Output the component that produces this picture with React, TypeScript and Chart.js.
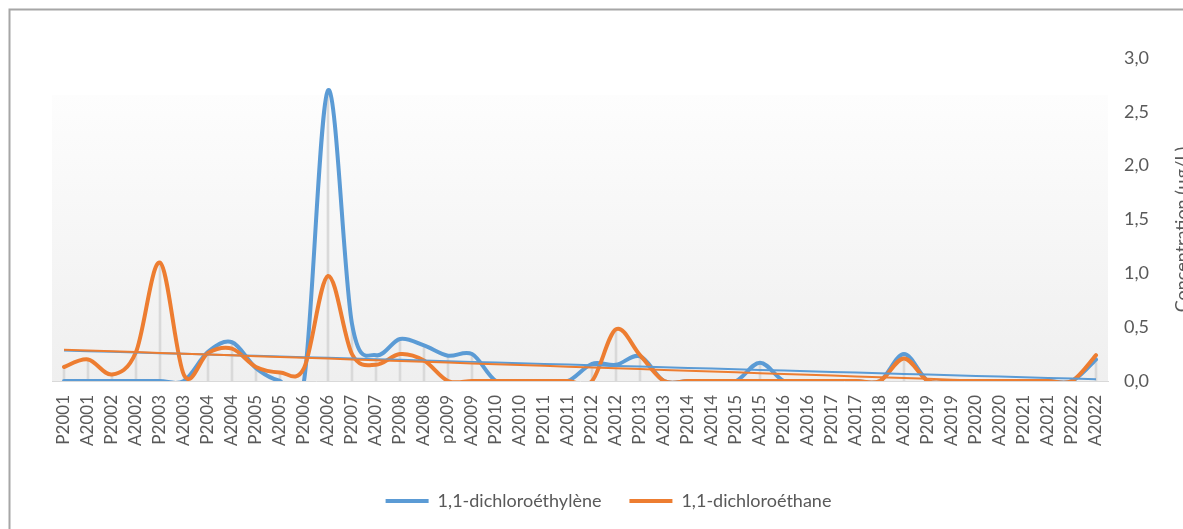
import React, { useEffect, useRef } from "react";
import { Chart, registerables } from "chart.js";

Chart.register(...registerables);

// ---------- data ----------
const categories = [
  "P2001", "A2001", "P2002", "A2002", "P2003", "A2003", "P2004", "A2004",
  "P2005", "A2005", "P2006", "A2006", "P2007", "A2007", "P2008", "A2008",
  "p2009", "A2009", "P2010", "A2010", "P2011", "A2011", "P2012", "A2012",
  "P2013", "A2013", "P2014", "A2014", "P2015", "A2015", "P2016", "A2016",
  "P2017", "A2017", "P2018", "A2018", "P2019", "A2019", "P2020", "A2020",
  "P2021", "A2021", "P2022", "A2022",
];

const dichloroethylene = [
  0, 0, 0, 0, 0, 0, 0.27, 0.36,
  0.12, 0, 0, 2.7, 0.53, 0.24, 0.39, 0.33,
  0.235, 0.25, 0, 0, 0, 0, 0.16, 0.15,
  0.23, 0, 0, 0, 0, 0.17, 0, 0,
  0, 0, 0, 0.25, 0, 0, 0, 0,
  0, 0, 0, 0.2,
];

const dichloroethane = [
  0.13, 0.2, 0.06, 0.27, 1.1, 0.055, 0.26, 0.3,
  0.13, 0.08, 0.12, 0.975, 0.25, 0.15, 0.25, 0.19,
  0, 0, 0, 0, 0, 0, 0, 0.48,
  0.24, 0, 0, 0, 0, 0, 0, 0,
  0, 0, 0, 0.21, 0, 0, 0, 0,
  0, 0, 0, 0.24,
];

const seriesNames = ["1,1-dichloroéthylène", "1,1-dichloroéthane"];
const axisTitle = "Concentration (µg/L)";
const Y_MIN = 0;
const Y_MAX = 3;
const Y_STEP = 0.5;

// ---------- style ----------
const BLUE = "#5B9BD5";
const ORANGE = "#ED7D31";
const TEXT = "#595959";
const FONT = "Lato";

function linearTrend(values: number[]): number[] {
  const n = values.length;
  const mx = (n - 1) / 2;
  const my = values.reduce((a, b) => a + b, 0) / n;
  let sxy = 0;
  let sxx = 0;
  values.forEach((v, i) => {
    sxy += (i - mx) * (v - my);
    sxx += (i - mx) * (i - mx);
  });
  const b = sxy / sxx;
  return values.map((_, i) => my + b * (i - mx));
}

const dropLines = categories.map((_, i) =>
  Math.max(dichloroethylene[i], dichloroethane[i])
);

// Excel-like smoothing (uniform Catmull-Rom control points)
const excelSmooth = {
  id: "excelSmooth",
  beforeDatasetDraw(chart: any, args: any) {
    if (args.index > 1) return;
    const meta = args.meta;
    const line = meta.dataset;
    if (!line) return;
    if (typeof line.updateControlPoints === "function") {
      line.updateControlPoints(chart.chartArea, meta.iAxis);
    }
    const pts = meta.data;
    for (let i = 0; i < pts.length; i++) {
      const p = pts[i];
      const pr = pts[Math.max(0, i - 1)];
      const nx = pts[Math.min(pts.length - 1, i + 1)];
      const dx = (nx.x - pr.x) / 6;
      const dy = (nx.y - pr.y) / 6;
      p.cp1x = p.x - dx;
      p.cp1y = p.y - dy;
      p.cp2x = p.x + dx;
      p.cp2y = p.y + dy;
    }
    line._path = undefined;
  },
};

const decor = {
  id: "decor",
  beforeDraw(chart: any) {
    const { ctx, chartArea } = chart;
    const { left, top, right, bottom } = chartArea;
    const fillTop = top + 37;
    ctx.save();
    const g = ctx.createLinearGradient(0, fillTop, 0, bottom);
    g.addColorStop(0, "#fdfdfd");
    g.addColorStop(1, "#efefef");
    ctx.fillStyle = g;
    ctx.fillRect(left, fillTop, right - left, bottom - fillTop);
    ctx.restore();
  },
  afterDraw(chart: any) {
    const { ctx, chartArea } = chart;
    ctx.save();
    ctx.strokeStyle = "#a6a6a6";
    ctx.lineWidth = 2;
    ctx.beginPath();
    ctx.moveTo(9.5, chart.height + 10);
    ctx.lineTo(9.5, 9.5);
    ctx.lineTo(chart.width + 10, 9.5);
    ctx.stroke();
    ctx.translate(chartArea.right + 80, (chartArea.top + chartArea.bottom) / 2 + 10);
    ctx.rotate(-Math.PI / 2);
    ctx.font = `18px ${FONT}`;
    ctx.fillStyle = TEXT;
    ctx.textAlign = "center";
    ctx.textBaseline = "alphabetic";
    ctx.fillText(axisTitle, 0, 0);
    ctx.restore();
  },
};

export default function App() {
  const canvasRef = useRef<HTMLCanvasElement | null>(null);

  useEffect(() => {
    document.body.style.margin = "0";
    let chart: Chart | null = null;
    let cancelled = false;

    const build = () => {
      if (cancelled || !canvasRef.current) return;
      chart = new Chart(canvasRef.current, {
        type: "line",
        data: {
          labels: categories,
          datasets: [
            {
              type: "line",
              label: seriesNames[0],
              data: dichloroethylene,
              borderColor: BLUE,
              backgroundColor: BLUE,
              borderWidth: 4,
              pointRadius: 0,
              tension: 0.4,
              fill: false,
              order: 4,
              borderCapStyle: "round",
              borderJoinStyle: "round",
            },
            {
              type: "line",
              label: seriesNames[1],
              data: dichloroethane,
              borderColor: ORANGE,
              backgroundColor: ORANGE,
              borderWidth: 4,
              pointRadius: 0,
              tension: 0.4,
              fill: false,
              order: 3,
              borderCapStyle: "round",
              borderJoinStyle: "round",
            },
            {
              type: "line",
              label: "trend-" + seriesNames[0],
              data: linearTrend(dichloroethylene),
              borderColor: BLUE,
              backgroundColor: BLUE,
              borderWidth: 2,
              pointRadius: 0,
              tension: 0,
              fill: false,
              order: 2,
            },
            {
              type: "line",
              label: "trend-" + seriesNames[1],
              data: linearTrend(dichloroethane),
              borderColor: ORANGE,
              backgroundColor: ORANGE,
              borderWidth: 2,
              pointRadius: 0,
              tension: 0,
              fill: false,
              order: 1,
            },
            {
              type: "bar",
              label: "drop",
              data: dropLines,
              backgroundColor: "#d9d9d9",
              borderWidth: 0,
              barThickness: 2,
              grouped: false,
              order: 10,
            } as any,
          ],
        },
        options: {
          responsive: false,
          animation: false,
          devicePixelRatio: 1,
          layout: { padding: { left: 52, right: 18, top: 58, bottom: 9 } },
          plugins: {
            tooltip: { enabled: false },
            title: { display: false },
            legend: {
              position: "bottom",
              labels: {
                font: { family: FONT, size: 18 },
                color: TEXT,
                boxWidth: 43,
                boxHeight: 4,
                padding: 28,
                generateLabels: (c: any) => {
                  const items = (Chart.defaults.plugins.legend.labels as any).generateLabels(c);
                  return items
                    .filter((it: any) => it.datasetIndex === 0 || it.datasetIndex === 1)
                    .sort((a: any, b: any) => a.datasetIndex - b.datasetIndex)
                    .map((it: any) => ({ ...it, fillStyle: it.strokeStyle, lineWidth: 0 }));
                },
              },
            },
          },
          scales: {
            x: {
              type: "category",
              offset: true,
              grid: { display: false, drawTicks: false, offset: false },
              border: { display: true, color: "#d9d9d9", width: 1 },
              ticks: {
                autoSkip: false,
                maxRotation: 90,
                minRotation: 90,
                padding: 14,
                font: { family: FONT, size: 17 },
                color: TEXT,
              },
              afterFit: (s: any) => {
                s.height = 83;
              },
            },
            y: {
              position: "right",
              min: Y_MIN,
              max: Y_MAX,
              grid: { display: false, drawTicks: false },
              border: { display: false },
              ticks: {
                stepSize: Y_STEP,
                padding: 16,
                font: { family: FONT, size: 18 },
                color: TEXT,
                callback: (v: any) => Number(v).toFixed(1).replace(".", ","),
              },
              afterFit: (s: any) => {
                s.width = 57;
              },
            },
          },
        } as any,
        plugins: [excelSmooth, decor],
      });
    };

    const fontsReady = (document as any).fonts
      ? Promise.all([
          (document as any).fonts.load(`18px ${FONT}`),
          (document as any).fonts.load(`17px ${FONT}`),
        ]).catch(() => null)
      : Promise.resolve(null);
    fontsReady.then(build);

    return () => {
      cancelled = true;
      if (chart) chart.destroy();
    };
  }, []);

  return (
    <div style={{ width: 1183, height: 529 }}>
      <canvas ref={canvasRef} width={1183} height={529} style={{ display: "block" }} />
    </div>
  );
}
